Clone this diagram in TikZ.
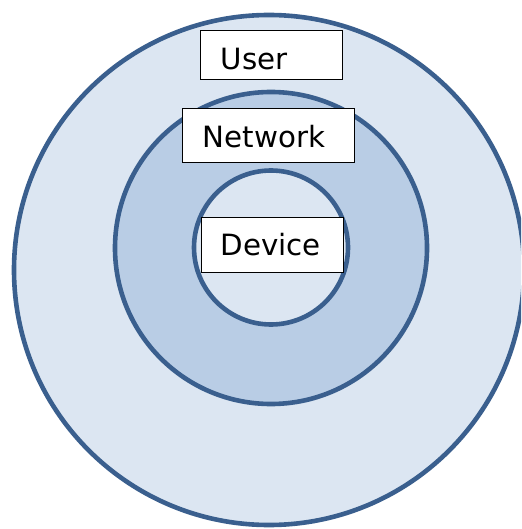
\documentclass[tikz,border=0pt]{standalone}
\usepackage{fontspec}
\setmainfont{DejaVu Sans}
\definecolor{ringline}{HTML}{3A5F8E}
\definecolor{lightfill}{HTML}{DCE6F2}
\definecolor{midfill}{HTML}{B9CDE5}
\tikzset{
  ring/.style={draw=ringline, line width=4.6pt},
  labelbox/.style={draw=black, fill=white, line width=1pt, rectangle, inner sep=0pt, anchor=north west},
  lbl/.style={font=\fontsize{29.3}{34}\selectfont, inner sep=0pt, anchor=base west},
}
\begin{document}
\begin{tikzpicture}[x=1pt,y=-1pt]
\useasboundingbox (0,0) rectangle (521,529);
\clip (0,0) rectangle (521,529);
\draw[ring, fill=lightfill] (269,270) circle[radius=255];
\draw[ring, fill=midfill] (271,248) circle[radius=156];
\draw[ring, fill=lightfill] (271,247.5) circle[radius=77];
\node[labelbox, minimum width=142pt, minimum height=49pt] (userbox) at (200,30) {};
\node[lbl] (user) at (220.5,70) {User};
\node[labelbox, minimum width=172pt, minimum height=54pt] (netbox) at (182,108) {};
\node[lbl] (net) at (202.5,148) {Network};
\node[labelbox, minimum width=142pt, minimum height=55pt] (devbox) at (201,217) {};
\node[lbl] (dev) at (220.5,255) {Device};
\end{tikzpicture}
\end{document}
